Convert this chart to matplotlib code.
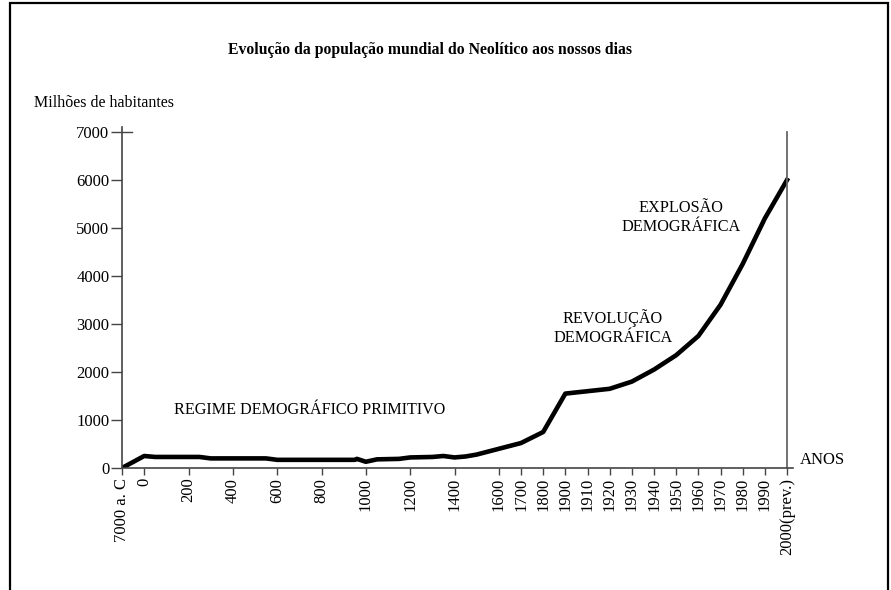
import numpy as np
import matplotlib
matplotlib.use("Agg")
import matplotlib.pyplot as plt
from matplotlib.patches import Rectangle

plt.rcParams['font.family'] = ['Liberation Serif', 'DejaVu Serif']

# anos e populacao (milhoes de habitantes)
anos = [-7000, 0, 50, 250, 300, 550, 600, 950, 960, 1000, 1050, 1150, 1200,
        1300, 1350, 1400, 1450, 1500, 1600, 1700, 1800, 1900, 1910, 1920,
        1930, 1940, 1950, 1960, 1970, 1980, 1990, 2000]
populacao = [0, 250, 230, 230, 200, 200, 170, 170, 190, 130, 180, 190, 220,
             230, 250, 220, 240, 280, 400, 520, 750, 1550, 1600, 1650,
             1800, 2050, 2350, 2750, 3400, 4250, 5200, 6000]

tick_anos = [-7000, 0, 200, 400, 600, 800, 1000, 1200, 1400, 1600, 1700, 1800,
             1900, 1910, 1920, 1930, 1940, 1950, 1960, 1970, 1980, 1990, 2000]
tick_labels = ['7000 a. C', '0', '200', '400', '600', '800', '1000', '1200',
               '1400', '1600', '1700', '1800', '1900', '1910', '1920', '1930',
               '1940', '1950', '1960', '1970', '1980', '1990', '2000(prev.)']
# escala do eixo x nao e linear: posicao de cada marca
tick_pos = [0, 1, 3, 5, 7, 9, 11, 13, 15, 17, 18, 19,
            20, 21, 22, 23, 24, 25, 26, 27, 28, 29, 30]

y_ticks = [0, 1000, 2000, 3000, 4000, 5000, 6000, 7000]


def pos(a):
    return np.interp(a, tick_anos, tick_pos)


fig = plt.figure(figsize=(8.91, 5.90), dpi=100)
ax = fig.add_axes([122 / 891, 1 - 468 / 590, (793 - 122) / 891, (468 - 127) / 590])

ax.plot(pos(anos), populacao, color='black', lw=3.3, solid_joinstyle='round')

ax.set_xlim(0, 30.27)
ax.set_ylim(0, 7104)

for s in ['top', 'right']:
    ax.spines[s].set_visible(False)
for s in ['left', 'bottom']:
    ax.spines[s].set_color('#444444')
    ax.spines[s].set_linewidth(1.2)

ax.set_xticks(tick_pos)
ax.set_xticklabels(tick_labels, rotation=90, fontsize=12)
ax.set_yticks(y_ticks)
ax.set_yticklabels([str(v) for v in y_ticks], fontsize=12)
ax.tick_params(axis='x', direction='out', length=5, width=1, color='#444444', pad=2)
ax.tick_params(axis='y', direction='out', length=8, width=1, color='#444444', pad=1)

# marca do 7000 atravessa o eixo
ax.plot([0, 0.45], [7000, 7000], color='#444444', lw=1, clip_on=False)
# linha vertical no ano 2000
ax.plot([30, 30], [0, 7000], color='#666666', lw=1.3, clip_on=False)

ax.text(2.35, 1208, 'REGIME DEMOGRÁFICO PRIMITIVO',
        fontsize=11.6, ha='left', va='center')
ax.text(22.15, 2927, 'REVOLUÇÃO\nDEMOGRÁFICA', fontsize=11.7, ha='center',
        va='center', linespacing=1.23)
ax.text(25.21, 5219, 'EXPLOSÃO\nDEMOGRÁFICA', fontsize=11.7, ha='center',
        va='center', linespacing=1.23)

fig.text(800 / 891, 1 - 460 / 590, 'ANOS', fontsize=12, ha='left', va='center')
fig.text(34 / 891, 1 - 103 / 590, 'Milhões de habitantes', fontsize=11.5,
         ha='left', va='center')
fig.text(430 / 891, 1 - 50 / 590,
         'Evolução da população mundial do Neolítico aos nossos dias',
         fontsize=11.3, fontweight='bold', ha='center', va='center')

frame = Rectangle((10 / 891, -0.2), (888 - 10) / 891, 1.2 - 3 / 590,
                  transform=fig.transFigure, fill=False, edgecolor='black',
                  lw=1.6, clip_on=False)
fig.patches.append(frame)

fig.savefig('out.png', dpi=100)
